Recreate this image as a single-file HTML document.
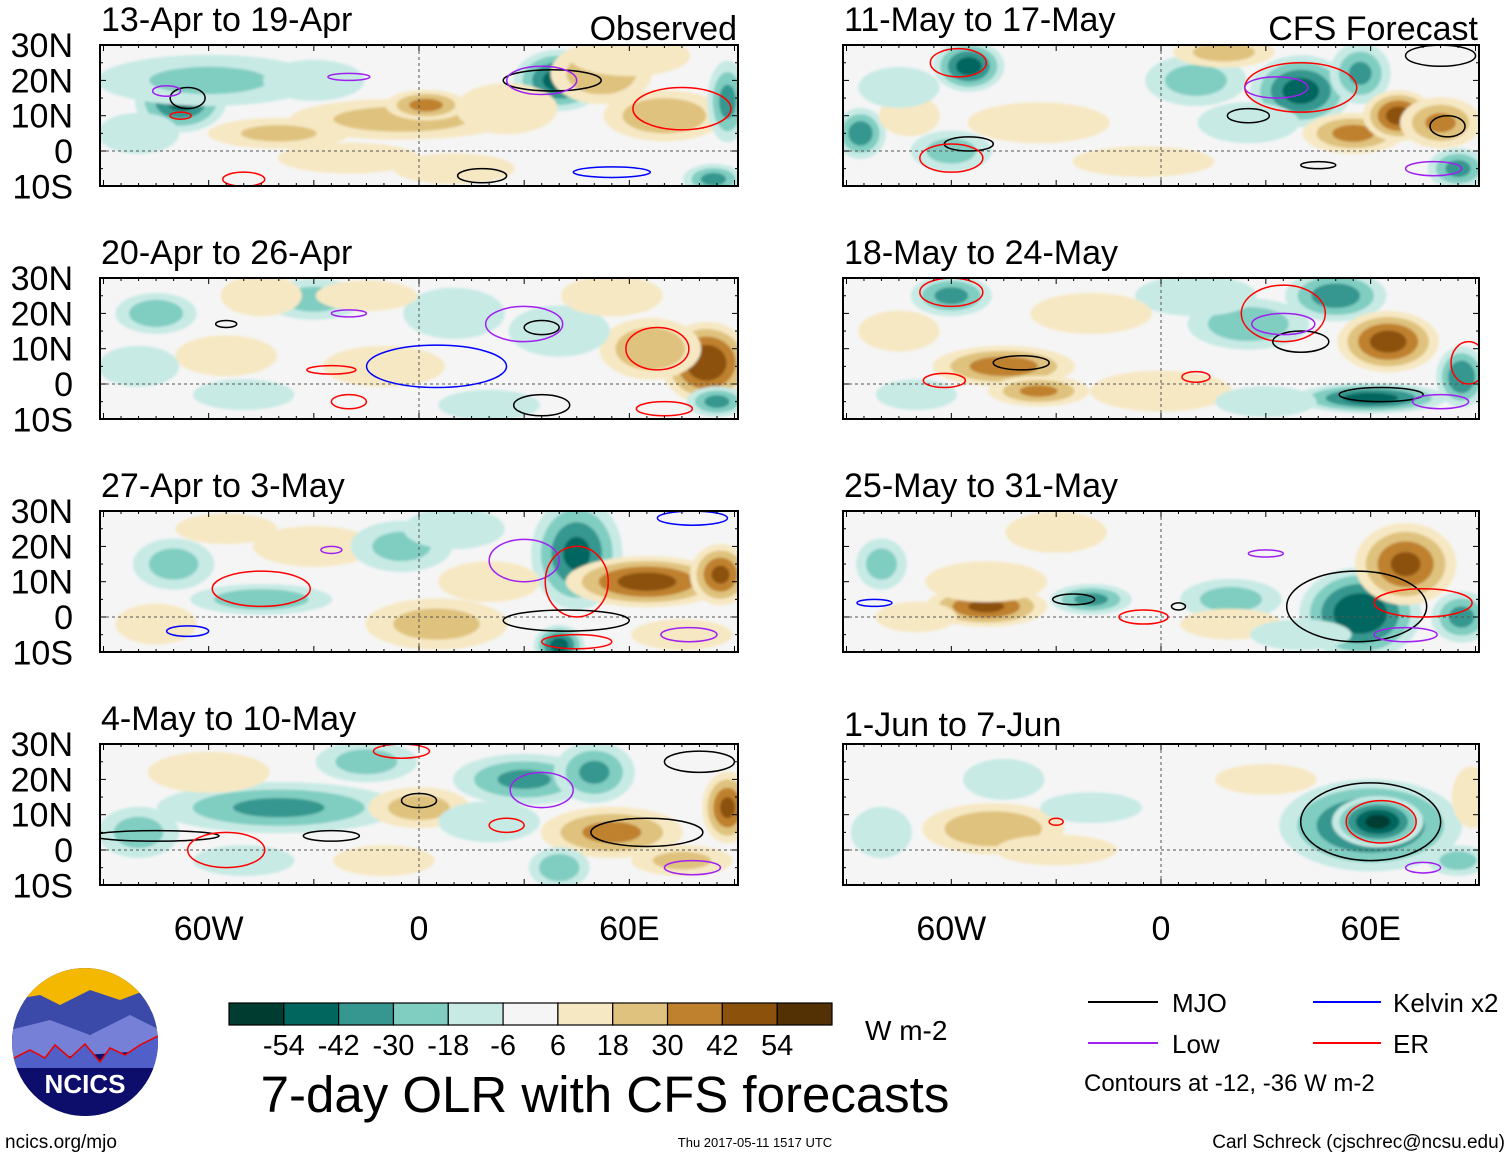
<!DOCTYPE html>
<html><head><meta charset="utf-8"><style>
body{margin:0;background:#fff;}
svg{display:block;font-family:"Liberation Sans",sans-serif;}
</style></head><body>
<svg id="chart" width="1510" height="1158" viewBox="0 0 1510 1158" xmlns="http://www.w3.org/2000/svg">
<defs><filter id="soft" x="-5%" y="-5%" width="110%" height="110%"><feGaussianBlur stdDeviation="1.4"/></filter></defs>
<g id="panels"></g>
<g id="legend"></g>
</svg>
<script>
// ---- data ----
const panelTitles = ["13-Apr to 19-Apr","20-Apr to 26-Apr","27-Apr to 3-May","4-May to 10-May","11-May to 17-May","18-May to 24-May","25-May to 31-May","1-Jun to 7-Jun"];
const latTicks = ["30N","20N","10N","0","10S"];
const latTickVals = [30,20,10,0,-10];
const lonTicks = ["60W","0","60E"];
const lonTickVals = [-60,0,60];
const cbarLabels = ["-54","-42","-30","-18","-6","6","18","30","42","54"];
const cbarColors = ["#003c30","#01665e","#35978f","#80cdc1","#c7eae5","#f5f5f5","#f6e8c3","#dfc27d","#bf812d","#8c510a","#543005"];
// blobs: [lon, lat, value, rxDeg, ryDeg]
const blobs0 = [[-68,14,-42,9,6],[-60,20,-18,22,5],[-5,9,22,22,4],[2,13,32,8,3],[-40,5,18,14,3],[40,20,-46,9,6],[52,22,28,10,6],[70,10,28,12,5],[88,14,-32,4,8],[84,-8,-32,6,3],[60,27,16,12,4],[25,12,15,10,5],[-20,-2,12,14,3],[-80,5,-12,8,4],[10,-5,12,12,3],[-30,20,-12,10,4]];
const blobs1 = [[-75,20,-26,8,4],[-30,24,-22,10,4],[10,20,-16,10,5],[-45,25,16,8,4],[-55,8,16,10,4],[82,6,52,9,8],[66,10,28,10,6],[85,-5,-32,6,3],[40,15,-16,10,5],[-10,5,16,12,4],[-50,-3,-16,10,3],[20,-6,-16,10,3],[-80,5,-14,8,4],[55,25,14,10,4],[-15,25,14,10,3]];
const blobs2 = [[45,18,-42,9,11],[40,-8,-46,5,4],[65,10,46,16,5],[86,12,42,6,6],[-70,15,-22,8,5],[-45,5,-26,14,3],[5,-2,22,14,5],[-30,20,16,12,4],[-5,20,-20,10,5],[10,25,-16,10,4],[20,10,14,10,4],[-75,-2,16,8,4],[75,-5,14,10,3],[-55,25,14,10,3]];
const blobs3 = [[-40,12,-30,24,5],[30,20,-30,14,5],[50,22,-30,8,6],[-15,25,-22,10,4],[55,5,32,14,5],[88,12,42,5,7],[-60,22,16,12,4],[0,12,22,10,4],[40,-5,-26,6,4],[-80,5,-22,8,5],[75,-3,20,10,3],[-10,-3,16,10,3],[20,8,-14,10,4],[-50,-3,-14,10,3]];
const blobs4 = [[-55,24,-46,7,5],[-86,5,-36,5,5],[10,20,-22,10,5],[40,17,-46,10,7],[57,22,-30,6,6],[55,5,32,10,4],[68,10,46,7,5],[80,8,30,8,5],[18,28,22,10,3],[-35,8,16,14,4],[-60,0,-22,8,4],[85,-5,-32,6,4],[-72,10,16,6,4],[-5,-3,14,14,3],[-75,18,-14,8,4],[25,8,-14,10,4]];
const blobs5 = [[-60,25,-32,8,4],[50,25,-36,10,5],[25,17,-26,12,5],[65,12,46,10,6],[-45,5,36,14,4],[-35,-2,30,10,3],[60,-4,-46,15,3],[86,2,-40,5,6],[0,-2,16,14,4],[10,25,-16,12,4],[-20,20,14,12,4],[-70,-3,-14,8,3],[-75,15,14,8,4],[30,-5,-14,10,3]];
const blobs6 = [[57,1,-52,12,9],[70,15,42,10,8],[-50,3,42,12,4],[-20,5,-32,8,3],[-80,15,-22,5,5],[20,5,-22,10,4],[-50,10,16,12,4],[86,0,-32,6,5],[20,-2,16,10,3],[40,-5,-16,10,3],[-30,24,14,10,4],[-70,0,14,8,3]];
const blobs7 = [[60,7,-46,18,9],[62,8,-56,9,5],[-48,6,28,14,5],[-45,20,-16,8,4],[-80,5,-16,6,5],[89,15,16,4,6],[85,-3,-22,6,3],[-20,12,-14,10,3],[-30,0,12,12,3],[30,20,10,10,3]];
const blobSets = [blobs0,blobs1,blobs2,blobs3,blobs4,blobs5,blobs6,blobs7];
// contours: [type, lon, lat, rxDeg, ryDeg]
const conts0 = [["mjo",-66,15,5,3],["mjo",38,20,14,3],["low",-72,17,4,1.5],["low",-20,21,6,1],["low",35,20,10,4],["er",75,12,14,6],["er",-50,-8,6,2],["kel",55,-6,11,1.5],["mjo",18,-7,7,2],["er",-68,10,3,1]];
const conts1 = [["kel",5,5,20,6],["er",68,10,9,6],["er",-20,-5,5,2],["mjo",35,16,5,2],["low",30,17,11,5],["low",-20,20,5,1],["er",-25,4,7,1.2],["mjo",35,-6,8,3],["er",70,-7,8,2],["mjo",-55,17,3,1]];
const conts2 = [["low",30,16,10,6],["er",45,10,9,10],["er",-45,8,14,5],["mjo",42,-1,18,3],["kel",-66,-4,6,1.5],["er",45,-7,10,2],["kel",78,28,10,2],["low",77,-5,8,2],["low",-25,19,3,1]];
const conts3 = [["mjo",-75,4,18,1.5],["mjo",65,5,16,4],["low",35,17,9,5],["er",-55,0,11,5],["er",25,7,5,2],["er",-5,28,8,2],["mjo",-25,4,8,1.5],["low",78,-5,8,2],["mjo",80,25,10,3],["mjo",0,14,5,2]];
const conts4 = [["er",-58,25,8,4],["er",40,18,16,7],["mjo",-55,2,7,2],["mjo",80,27,10,3],["er",-60,-2,9,4],["low",78,-5,8,2],["mjo",82,7,5,3],["low",33,18,9,3],["mjo",25,10,6,2],["mjo",45,-4,5,1]];
const conts5 = [["er",-60,26,9,4],["er",35,20,12,8],["mjo",-40,6,8,2],["mjo",40,12,8,3],["mjo",63,-3,12,2],["er",-62,1,6,2],["low",35,17,9,3],["low",80,-5,8,2],["er",10,2,4,1.5],["er",88,6,5,6]];
const conts6 = [["mjo",56,3,20,10],["mjo",-25,5,6,1.5],["er",-5,0,7,2],["er",75,4,14,4],["low",70,-5,9,2],["low",30,18,5,1],["kel",-82,4,5,1],["mjo",5,3,2,1]];
const conts7 = [["mjo",60,8,20,11],["er",63,8,10,6],["er",-30,8,2,1],["low",75,-5,5,1.5]];
const contSets = [conts0,conts1,conts2,conts3,conts4,conts5,conts6,conts7];

// ---- layout ----
const NS="http://www.w3.org/2000/svg";
const contColor = {mjo:"#000000",low:"#a020f0",kel:"#0000ff",er:"#ff0000"};
const thresholds=[6,18,30,42,54];
function mk(tag,attrs,parent){const e=document.createElementNS(NS,tag);for(const k in attrs)e.setAttribute(k,attrs[k]);parent.appendChild(e);return e;}
function binColor(v){
  if(v>=54)return cbarColors[10]; if(v>=42)return cbarColors[9]; if(v>=30)return cbarColors[8]; if(v>=18)return cbarColors[7]; if(v>=6)return cbarColors[6];
  if(v<=-54)return cbarColors[0]; if(v<=-42)return cbarColors[1]; if(v<=-30)return cbarColors[2]; if(v<=-18)return cbarColors[3]; if(v<=-6)return cbarColors[4];
  return cbarColors[5];
}
const root=document.getElementById('panels');
const rowTops=[45,278,511,744];
const GROW=1.45;
for(let p=0;p<8;p++){
  const col=p<4?0:1, row=p%4;
  const x0=col?843:100, x1=col?1479:738, top=rowTops[row], bot=top+141;
  const xLon=lon=>(x0+x1)/2+lon*(x1-x0)/182;
  const yLat=lat=>top+106-lat*3.53;
  const g=mk('g',{},root);
  
  
  const cid='clip'+p;
  const cp=mk('clipPath',{id:cid},g); mk('rect',{x:x0,y:top,width:x1-x0,height:141},cp);
  mk('rect',{x:x0,y:top,width:x1-x0,height:141,fill:'#f5f5f5'},g);
  const field=mk('g',{'clip-path':'url(#'+cid+')'},g);
  const fg=mk('g',{filter:'url(#soft)'},field);
  for(const b of blobSets[p]){
    const [lon,lat,v,rx,ry]=b, a=Math.abs(v), sgn=Math.sign(v);
    for(const t of thresholds){
      if(t>a)break;
      const s=Math.pow(1-(t-6)/(a+4),0.8);
      const el=mk('ellipse',{cx:xLon(lon),cy:yLat(lat),rx:rx*3.5*s*GROW,ry:ry*3.53*s*GROW,fill:binColor(sgn*(t+0.1))},fg);
      
      
    }
  }
  mk('line',{x1:x0,x2:x1,y1:yLat(0),y2:yLat(0),stroke:'#555','stroke-width':1,'stroke-dasharray':'3,3'},field);
  mk('line',{x1:xLon(0),x2:xLon(0),y1:top,y2:bot,stroke:'#555','stroke-width':1,'stroke-dasharray':'3,3'},field);
  for(const c of contSets[p]){
    const el=mk('ellipse',{cx:xLon(c[1]),cy:yLat(c[2]),rx:c[3]*3.5,ry:c[4]*3.53,fill:'none',stroke:contColor[c[0]],'stroke-width':1.5},field);
    
    
  }
  mk('rect',{x:x0,y:top,width:x1-x0,height:141,fill:'none',stroke:'#000','stroke-width':2},g);
  for(let lon=-90;lon<=90;lon+=5){const x=xLon(lon),L=lon%30===0?6:3;
    mk('line',{x1:x,x2:x,y1:top,y2:top+L,stroke:'#000','stroke-width':1},g);
    mk('line',{x1:x,x2:x,y1:bot,y2:bot-L,stroke:'#000','stroke-width':1},g);}
  for(let lat=-10;lat<=30;lat+=5){const y=yLat(lat),L=lat%10===0?6:3;
    mk('line',{x1:x0,x2:x0+L,y1:y,y2:y,stroke:'#000','stroke-width':1},g);
    mk('line',{x1:x1,x2:x1-L,y1:y,y2:y,stroke:'#000','stroke-width':1},g);}
  const t=mk('text',{x:x0+1,y:(p===7?top-8:top-14),'font-size':34,fill:'#000'},g); t.textContent=panelTitles[p];
   
  if(p===0||p===4){const h=mk('text',{x:x1-1,y:top-5,'font-size':34,'text-anchor':'end'},g);h.textContent=p===0?"Observed":"CFS Forecast";
    }
  if(col===0){latTicks.forEach((lab,i)=>{const y=yLat(latTickVals[i]);const tt=mk('text',{x:73,y:y+12,'font-size':34,'text-anchor':'end'},g);tt.textContent=lab;
    });}
  if(row===3){lonTicks.forEach((lab,i)=>{const tt=mk('text',{x:xLon(lonTickVals[i]),y:940,'font-size':34,'text-anchor':'middle'},g);tt.textContent=lab;
    });}
}
const lg=document.getElementById('legend');
const cbx=229,cbw=603/11;
cbarColors.forEach((c,i)=>{const r=mk('rect',{x:cbx+i*cbw,y:1003,width:cbw,height:22,fill:c,stroke:'#000','stroke-width':1.2},lg);
  });
cbarLabels.forEach((l,i)=>{const t=mk('text',{x:cbx+(i+1)*cbw,y:1055,'font-size':29,'text-anchor':'middle'},lg);t.textContent=l;
  });
</script>
<svg style="position:absolute;left:0;top:0" width="1510" height="1158" xmlns="http://www.w3.org/2000/svg">
<text x="865" y="1040" font-family="Liberation Sans" font-size="28">W m-2</text>
<text x="605" y="1112" font-family="Liberation Sans" font-size="51" text-anchor="middle">7-day OLR with CFS forecasts</text>
<g font-family="Liberation Sans" font-size="26">
<line x1="1088" x2="1158" y1="1002" y2="1002" stroke="#000" stroke-width="2"/><text x="1172" y="1012">MJO</text>
<line x1="1313" x2="1381" y1="1002" y2="1002" stroke="#0000ff" stroke-width="2"/><text x="1393" y="1012">Kelvin x2</text>
<line x1="1088" x2="1158" y1="1043" y2="1043" stroke="#a020f0" stroke-width="2"/><text x="1172" y="1053">Low</text>
<line x1="1313" x2="1381" y1="1043" y2="1043" stroke="#ff0000" stroke-width="2"/><text x="1393" y="1053">ER</text>
<text x="1084" y="1091" font-size="24">Contours at -12, -36 W m-2</text>
</g>
<g>
<clipPath id="logoclip"><ellipse cx="85" cy="1042" rx="73" ry="74"/></clipPath>
<g clip-path="url(#logoclip)">
<rect x="10" y="966" width="150" height="152" fill="#0d0d6b"/>
<rect x="10" y="966" width="150" height="45" fill="#f5b800"/>
<polygon points="10,1000 40,995 60,1005 90,990 120,1000 160,985 160,1030 10,1040" fill="#3b4aa8"/>
<polygon points="10,1030 50,1020 90,1035 130,1015 160,1030 160,1050 10,1060" fill="#7580d6"/>
<polygon points="10,1060 30,1050 45,1058 55,1045 70,1058 85,1044 100,1062 110,1048 125,1055 140,1045 160,1035 160,1080 10,1085" fill="#5060c8" stroke="#e00" stroke-width="1.5"/>
<rect x="10" y="1068" width="150" height="50" fill="#0d0d6b"/>
</g>
<text x="85" y="1093" font-family="Liberation Sans" font-size="26" font-weight="bold" fill="#fff" text-anchor="middle">NCICS</text>
</g>
<text x="5" y="1148" font-family="Liberation Sans" font-size="19">ncics.org/mjo</text>
<text x="755" y="1147" font-family="Liberation Sans" font-size="13" text-anchor="middle">Thu 2017-05-11 1517 UTC</text>
<text x="1505" y="1148" font-family="Liberation Sans" font-size="19" text-anchor="end">Carl Schreck (cjschrec@ncsu.edu)</text>
</svg>
</body></html>
